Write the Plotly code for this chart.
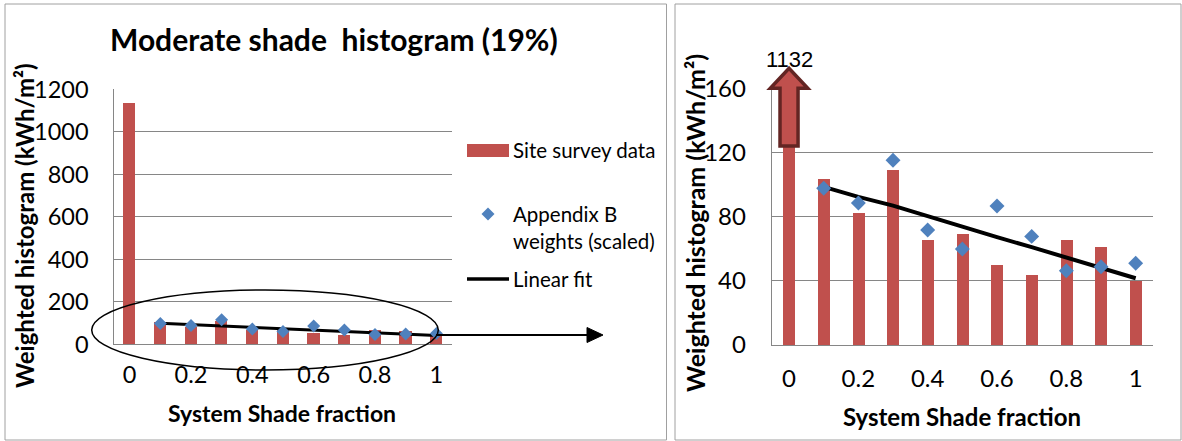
import plotly.graph_objects as go

# ---------------- data ----------------
shade = [0, 0.1, 0.2, 0.3, 0.4, 0.5, 0.6, 0.7, 0.8, 0.9, 1.0]
site_survey = [1132, 103, 82, 109, 65, 69, 49.5, 43.5, 65.5, 61, 40]
appx_shade = [0.1, 0.2, 0.3, 0.4, 0.5, 0.6, 0.7, 0.8, 0.9, 1.0]
appendix_b = [97.7, 88.5, 115.1, 71.7, 59.8, 86.6, 67.7, 46.3, 48.8, 50.9]
linear_fit = [98.6, 92.3, 86.9, 80.2, 73.9, 67.2, 61.0, 54.5, 48.0, 41.6]
x_tick_vals = [0, 0.2, 0.4, 0.6, 0.8, 1.0]
x_tick_text = ["0", "0.2", "0.4", "0.6", "0.8", "1"]
left_y_ticks = [0, 200, 400, 600, 800, 1000, 1200]
right_y_ticks = [0, 40, 80, 120, 160]
peak_label = "1132"

# ---------------- geometry helpers ----------------
W, H = 1182, 441
def px(x):
    return x / W
def py(y):
    return 1 - y / H

XR = [-0.05, 1.05]
L_X = (114.3, 451.7); L_Y = (344.3, 89.3)
R_X = (771.7, 1153.0); R_Y = (345.0, 88.3)
L_YR = [0, 1200]; R_YR = [0, 160]

def r_data_to_px(x, y):
    xp = R_X[0] + (x - XR[0]) / (XR[1] - XR[0]) * (R_X[1] - R_X[0])
    yp = R_Y[0] - (y - R_YR[0]) / (R_YR[1] - R_YR[0]) * (R_Y[0] - R_Y[1])
    return xp, yp

RED = "#C0504D"
BLUE = "#4F81BD"
GRID = "#868686"
CAL = "Lato"
ARI = "Liberation Sans, Arial"
CLEAR = "rgba(0,0,0,0)"

fig = go.Figure()

# left panel
fig.add_trace(go.Bar(x=shade, y=site_survey, width=0.04, marker=dict(color=RED, line=dict(width=0)),
                     xaxis="x", yaxis="y", showlegend=False))
fig.add_trace(go.Scatter(x=appx_shade, y=linear_fit, mode="lines", line=dict(color="black", width=3),
                         xaxis="x", yaxis="y", showlegend=False))
fig.add_trace(go.Scatter(x=appx_shade, y=appendix_b, mode="markers",
                         marker=dict(symbol="diamond", size=10, color=BLUE),
                         xaxis="x", yaxis="y", showlegend=False))
# right panel
fig.add_trace(go.Bar(x=shade, y=site_survey, width=0.035, marker=dict(color=RED, line=dict(width=0)),
                     xaxis="x2", yaxis="y2", showlegend=False))
fig.add_trace(go.Scatter(x=appx_shade, y=linear_fit, mode="lines", line=dict(color="black", width=4),
                         xaxis="x2", yaxis="y2", showlegend=False))
fig.add_trace(go.Scatter(x=appx_shade, y=appendix_b, mode="markers",
                         marker=dict(symbol="diamond", size=11.5, color=BLUE),
                         xaxis="x2", yaxis="y2", showlegend=False))

common_x = dict(range=XR, tickmode="array", tickvals=x_tick_vals, ticktext=x_tick_text,
                showgrid=False, zeroline=False, showline=True, linecolor=GRID, linewidth=1,
                ticks="", automargin=False)
common_y = dict(showgrid=True, gridcolor=GRID, gridwidth=1, zeroline=False, showline=True,
                linecolor=GRID, linewidth=1, ticks="outside", ticklen=20, tickcolor=CLEAR,
                tickmode="array", automargin=False)

fig.update_layout(
    width=W, height=H, autosize=False,
    margin=dict(l=0, r=0, t=0, b=0, pad=0, autoexpand=False),
    paper_bgcolor="white", plot_bgcolor="white", bargap=0, showlegend=False,
    xaxis=dict(domain=[px(L_X[0]), px(L_X[1])], anchor="y", ticklabelstandoff=9,
               tickfont=dict(family=CAL, size=23.5, color="black"), **common_x),
    yaxis=dict(domain=[py(L_Y[0]), py(L_Y[1])], anchor="x", range=L_YR, tickvals=left_y_ticks,
               tickfont=dict(family=CAL, size=23.5, color="black"), **common_y),
    xaxis2=dict(domain=[px(R_X[0]), px(R_X[1])], anchor="y2", ticklabelstandoff=12,
                tickfont=dict(family=CAL, size=24, color="black"), **common_x),
    yaxis2=dict(domain=[py(R_Y[0]), py(R_Y[1])], anchor="x2", range=R_YR, tickvals=right_y_ticks,
                tickfont=dict(family=CAL, size=24, color="black"), **common_y),
)

shapes = []
# panel borders
shapes.append(dict(type="rect", xref="paper", yref="paper", x0=px(5), x1=px(666.5), y0=py(440), y1=py(4),
                   line=dict(color="#A0A0A0", width=1)))
shapes.append(dict(type="rect", xref="paper", yref="paper", x0=px(675), x1=px(1181), y0=py(440), y1=py(4),
                   line=dict(color="#A0A0A0", width=1)))
# ellipse + arrow (left)
shapes.append(dict(type="circle", xref="paper", yref="paper", x0=px(91.7), x1=px(438.3), y0=py(370), y1=py(290),
                   line=dict(color="black", width=1.5)))
shapes.append(dict(type="line", xref="paper", yref="paper", x0=px(436), x1=px(590), y0=py(335), y1=py(335),
                   line=dict(color="black", width=2)))
shapes.append(dict(type="path", xref="paper", yref="paper",
                   path=f"M{px(587)},{py(327.5)} L{px(603)},{py(335)} L{px(587)},{py(342.5)} Z",
                   fillcolor="black", line=dict(color="black", width=1)))
# legend swatches (left)
shapes.append(dict(type="rect", xref="paper", yref="paper", x0=px(467), x1=px(509), y0=py(157), y1=py(144),
                   fillcolor=RED, line=dict(width=0)))
shapes.append(dict(type="path", xref="paper", yref="paper",
                   path=f"M{px(481.5)},{py(214)} L{px(488)},{py(207.5)} L{px(494.5)},{py(214)} L{px(488)},{py(220.5)} Z",
                   fillcolor=BLUE, line=dict(width=0)))
shapes.append(dict(type="line", xref="paper", yref="paper", x0=px(467), x1=px(509), y0=py(279), y1=py(279),
                   line=dict(color="black", width=3.5)))
# block arrow over bar 0 (right)
sx0, _ = r_data_to_px(-0.026, 0)
sx1, _ = r_data_to_px(0.026, 0)
hx0, _ = r_data_to_px(-0.054, 0)
hx1, _ = r_data_to_px(0.054, 0)
cx, ybot = r_data_to_px(0, 124)
_, ybase = r_data_to_px(0, 160)
_, ytip = r_data_to_px(0, 172.4)
arrow_path = (f"M{px(sx0)},{py(ybot)} L{px(sx0)},{py(ybase)} L{px(hx0)},{py(ybase)} "
              f"L{px(cx)},{py(ytip)} L{px(hx1)},{py(ybase)} L{px(sx1)},{py(ybase)} L{px(sx1)},{py(ybot)} Z")
shapes.append(dict(type="path", xref="paper", yref="paper", path=arrow_path,
                   fillcolor=RED, line=dict(color="#632523", width=3.5)))
fig.update_layout(shapes=shapes)

ann = []
def text(x, y, s, size, family=CAL, bold=False, angle=0, xanchor="center"):
    ann.append(dict(xref="paper", yref="paper", x=px(x), y=py(y), text=(f"<b>{s}</b>" if bold else s),
                    showarrow=False, textangle=angle, xanchor=xanchor, yanchor="middle",
                    font=dict(family=family, size=size, color="black")))

text(334, 39, "Moderate shade \u00a0histogram (19%)", 30, bold=True)
text(24, 226, "Weighted histogram (kWh/m\u00b2)", 24, bold=True, angle=-90)
text(281.5, 413, "System Shade fraction", 23, bold=True)
text(511, 150, "Site survey data", 20.5, xanchor="left")
text(511, 214, "Appendix B", 20.5, xanchor="left")
text(511, 241, "weights (scaled)", 20.5, xanchor="left")
text(511, 279, "Linear fit", 20.5, xanchor="left")
text(695, 223, "Weighted histogram (kWh/m\u00b2)", 25, bold=True, angle=-90)
text(961.5, 416, "System Shade fraction", 24, bold=True)
cxp, _ = r_data_to_px(0, 0)
text(cxp, 59, peak_label, 22, family=ARI)
fig.update_layout(annotations=ann)

fig.write_html("out.html", config={"displayModeBar": False})
